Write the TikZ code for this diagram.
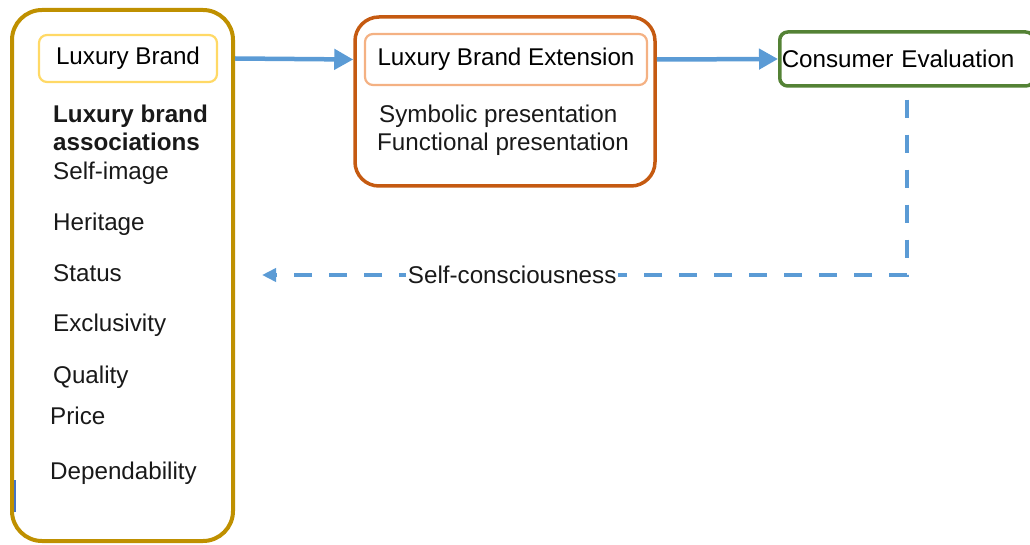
\documentclass[tikz,border=0pt]{standalone}
\usepackage{fontspec}
\setmainfont{Liberation Sans}
\usetikzlibrary{arrows.meta}

\definecolor{goldline}{HTML}{BF9000}
\definecolor{goldlight}{HTML}{FFD966}
\definecolor{orangeline}{HTML}{C55A11}
\definecolor{orangelight}{HTML}{F4B183}
\definecolor{greenline}{HTML}{548235}
\definecolor{flowblue}{HTML}{5B9BD5}
\definecolor{marker}{HTML}{4472C4}

\begin{document}
\begin{tikzpicture}[x=1pt,y=-1pt,
			font=\fontsize{24.2}{28}\selectfont,
			outerbox/.style={draw,rounded corners=30pt,inner sep=0pt},
			innerbox/.style={draw,line width=2.2pt,rounded corners=8pt,inner sep=0pt},
			item/.style={anchor=base west,inner sep=0pt,text=black!90},
			flow/.style={flowblue,line width=4.5pt,-{Triangle[length=19pt,width=20pt]}},
			feedback/.style={flowblue,line width=3.5pt,dash pattern=on 18pt off 17pt,
				-{Triangle[length=14pt,width=13pt]}}]
			
			\useasboundingbox (0,0) rectangle (1030,545);
			
			% main boxes
			\node[outerbox,draw=goldline,line width=4pt,minimum width=221pt,minimum height=531pt] (lux) at (122.5,275.5) {};
			\node[outerbox,draw=orangeline,line width=3.5pt,rounded corners=24pt,minimum width=300pt,minimum height=169pt] (ext) at (505,101.5) {};
			\node[innerbox,draw=greenline,line width=3.5pt,minimum width=254pt,minimum height=54pt,anchor=west,text width=250pt,align=left,inner xsep=2pt] (eval) at (778,59) {Consumer Evaluation};
			
			% titles
			\node[innerbox,draw=goldlight,minimum width=178pt,minimum height=47pt] (lb) at (128,58.5) {Luxury Brand};
			\node[innerbox,draw=orangelight,minimum width=282pt,minimum height=51pt] (extlb) at (506,59.5) {Luxury Brand Extension};
			
			% associations
			\node[item,font=\fontsize{24.2}{28}\selectfont\bfseries] (assoc) at (53,123) {Luxury brand};
			\node[item,font=\fontsize{24.2}{28}\selectfont\bfseries] (assoc2) at (53,151) {associations};
			\foreach \txt/\x/\y [count=\i] in {Self-image/53/180,Heritage/53/231,Status/53/281,
				Exclusivity/53/331,Quality/53/383,Price/50/424,Dependability/50/479}
				\node[item] (a\i) at (\x,\y) {\txt};
			
			% presentation
			\node[item] (sym) at (379,123) {Symbolic presentation};
			\node[item] (fun) at (377,151) {Functional presentation};
			
			% connectors
			\draw[flow] (lux.east |- lb.east) -- (ext.west |- extlb.east);
			\draw[flow] (ext.east |- extlb.east) -- (eval.west);
			\coordinate (selfend) at (262,275);
			\draw[feedback] ([yshift=-12pt]eval.south) |- (selfend)
				node[pos=0.806,fill=white,inner sep=2pt,text=black!90] (self) {Self-consciousness};
			
			\draw[marker,line width=2pt] (14.5,480) -- (14.5,512);
		\end{tikzpicture}
\end{document}
